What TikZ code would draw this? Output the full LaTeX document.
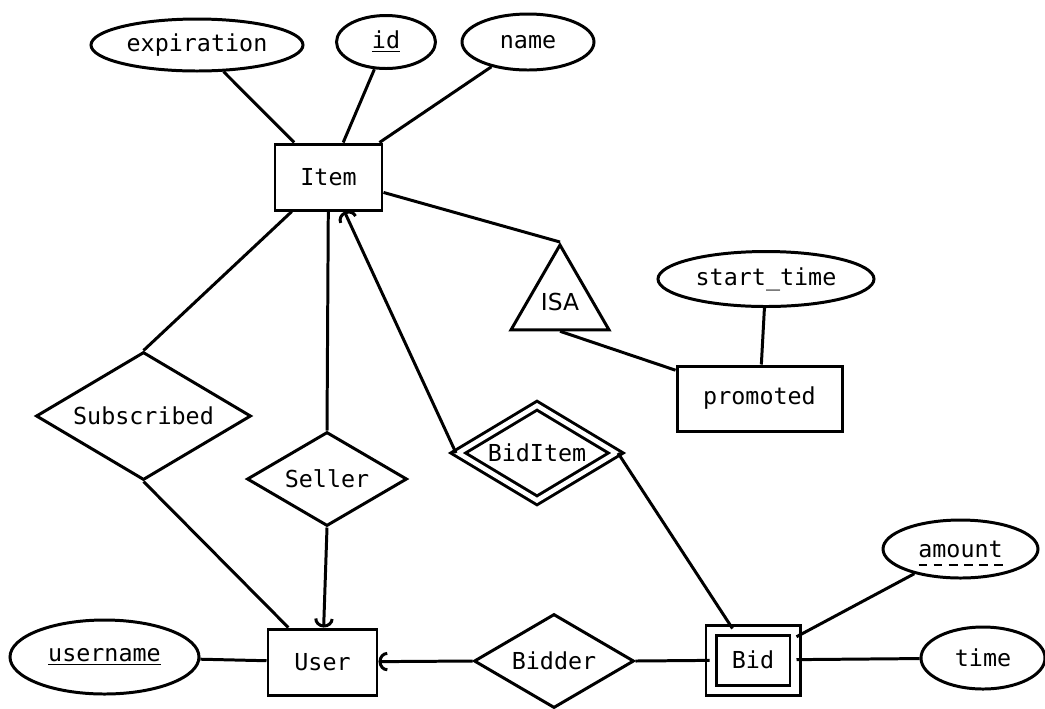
\documentclass[tikz,border=0pt]{standalone}
\usepackage{fontspec}
\setmonofont{DejaVu Sans Mono}
\setsansfont{DejaVu Sans}
\usetikzlibrary{shapes.geometric,arrows.meta}

\tikzset{
    every node/.style={font=\fontsize{13.3}{15}\selectfont\ttfamily, line width=1.7pt, inner sep=0pt},
    entity/.style={draw, rectangle},
    weakentity/.style={draw, rectangle, double, double distance=4pt},
    attribute/.style={draw, ellipse},
    relation/.style={draw, diamond, aspect=1.7},
    weakrelation/.style={draw, diamond, aspect=1.7, double, double distance=2.6pt},
    isa/.style={draw, regular polygon, regular polygon sides=3, minimum size=2.26cm, font=\fontsize{13.3}{15}\selectfont\sffamily},
    toone/.style={-{Arc Barb[length=5pt, width=11pt]}},
}

\begin{document}
\begin{tikzpicture}[line width=1.7pt]
        \useasboundingbox (0,0) rectangle (20.9,-14.16);

        \node (item) [entity, minimum width=2.14cm, minimum height=1.32cm] at (6.57,-3.54) {Item};
        \node (expiration) [attribute, minimum width=4.24cm, minimum height=1.04cm] at (3.94,-0.90) {expiration};
        \node (id) [attribute, minimum width=1.98cm, minimum height=1.06cm] at (7.72,-0.84) {\underline{id}};
        \node (name) [attribute, minimum width=2.64cm, minimum height=1.12cm] at (10.56,-0.84) {name};

        \node (isa) [isa] at (11.20,-6.03) {ISA};
        \node (promoted) [entity, minimum width=3.30cm, minimum height=1.30cm] at (15.19,-7.97) {promoted};
        \node (starttime) [attribute, minimum width=4.32cm, minimum height=1.10cm] at (15.32,-5.58) {start\_time};

        \node (subscribed) [relation, minimum width=4.30cm, minimum height=2.56cm] at (2.87,-8.32) {Subscribed};
        \node (seller) [relation, minimum width=3.20cm, minimum height=1.88cm] at (6.54,-9.58) {Seller};
        \node (biditem) [weakrelation, minimum width=3.18cm, minimum height=1.92cm] at (10.74,-9.06) {BidItem};

        \node (user) [entity, minimum width=2.18cm, minimum height=1.32cm] at (6.45,-13.24) {User};
        \node (username) [attribute, minimum width=3.78cm, minimum height=1.48cm] at (2.09,-13.14) {\underline{username}};
        \node (bidder) [relation, minimum width=3.20cm, minimum height=1.88cm] at (11.08,-13.22) {Bidder};
        \node (bid) [weakentity, minimum width=1.68cm, minimum height=1.20cm] at (15.06,-13.20) {Bid};
        \node (amount) [attribute, minimum width=3.10cm, minimum height=1.16cm] at (19.21,-10.98) {amount};
        \draw[line width=1.3pt, dash pattern=on 5pt off 3.6pt] ([xshift=-0.84cm,yshift=-0.16cm]amount.base) -- ([xshift=0.84cm,yshift=-0.16cm]amount.base);
        \node (time) [attribute, minimum width=2.48cm, minimum height=1.24cm] at (19.66,-13.16) {time};

        \draw (expiration) -- (item);
        \draw (id) -- (item);
        \draw (name) -- (item);
        \draw (item) -- (isa.corner 1);
        \draw (isa.side 2) -- (promoted);
        \draw (starttime) -- (promoted);

        \draw (subscribed.north) -- (item);
        \draw (subscribed.south) -- (user);
        \draw (seller.north) -- (item);
        \draw[toone] (seller.south) -- (user);
        \draw[toone] (biditem.west) -- (item);
        \draw (biditem.east) -- (bid);

        \draw (username) -- (user);
        \draw[toone] (bidder.west) -- (user);
        \draw (bidder.east) -- (bid);
        \draw (bid) -- (amount);
        \draw (bid) -- (time);
    \end{tikzpicture}
\end{document}
